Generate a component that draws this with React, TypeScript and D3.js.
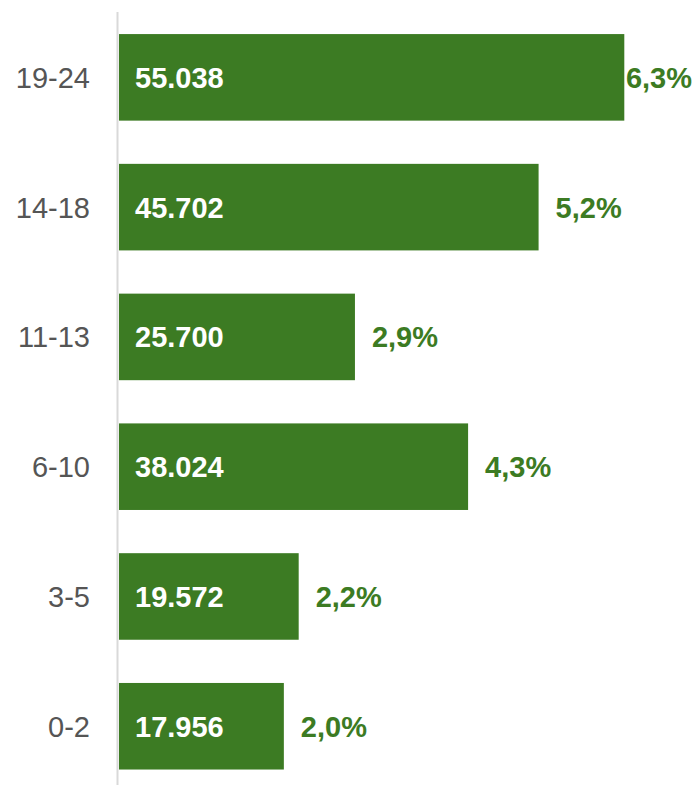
import React from "react";
import * as d3 from "d3";

const categories = ["19-24", "14-18", "11-13", "6-10", "3-5", "0-2"];
const values = [55038, 45702, 25700, 38024, 19572, 17956];
const valueLabels = ["55.038", "45.702", "25.700", "38.024", "19.572", "17.956"];
const percentLabels = ["6,3%", "5,2%", "2,9%", "4,3%", "2,2%", "2,0%"];

const W = 695;
const H = 785;
const GREEN = "#3c7b23";
const FONT = "'Liberation Sans', Arial, Helvetica, sans-serif";

export default function App() {
  const x = d3.scaleLinear().domain([0, 55038]).range([119, 624.3]);
  const y = d3
    .scaleBand<string>()
    .domain(categories)
    .range([12.4, 791.2])
    .paddingInner(0.333)
    .paddingOuter(0.167);

  return (
    <svg
      width={W}
      height={H}
      style={{ position: "absolute", left: 0, top: 0, display: "block" }}
    >
      <line x1={117.5} x2={117.5} y1={12} y2={H} stroke="#d9d9d9" strokeWidth={2} />
      {categories.map((c, i) => {
        const y0 = y(c)!;
        const bw = y.bandwidth();
        const cy = y0 + bw / 2;
        const xEnd = x(values[i]);
        let px = xEnd + 17;
        let anchor: "start" | "end" = "start";
        if (px + 66 > W - 2) {
          px = W - 3;
          anchor = "end";
        }
        return (
          <g key={c}>
            <rect x={x(0)} y={y0} width={xEnd - x(0)} height={bw} fill={GREEN} />
            <text
              x={90}
              y={cy + 10.5}
              textAnchor="end"
              fontFamily={FONT}
              fontSize={29}
              fill="#555555"
            >
              {c}
            </text>
            <text
              x={135}
              y={cy + 10.5}
              fontFamily={FONT}
              fontSize={29}
              fontWeight="bold"
              fill="#ffffff"
            >
              {valueLabels[i]}
            </text>
            <text
              x={px}
              y={cy + 10.5}
              textAnchor={anchor}
              fontFamily={FONT}
              fontSize={29}
              fontWeight="bold"
              fill={GREEN}
            >
              {percentLabels[i]}
            </text>
          </g>
        );
      })}
    </svg>
  );
}
